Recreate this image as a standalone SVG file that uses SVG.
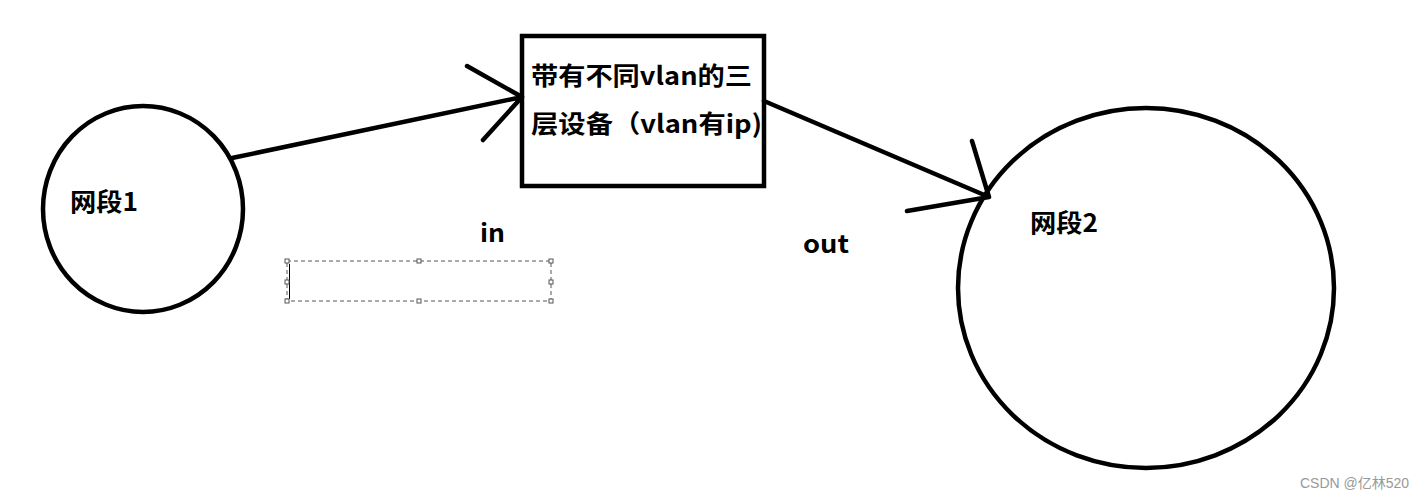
<svg xmlns="http://www.w3.org/2000/svg" width="1425" height="499" viewBox="0 0 1425 499">
<style>
.s{fill:none;stroke:#000;stroke-width:4.5;stroke-linecap:round}
.t{font-family:"Noto Sans CJK SC","Noto Sans",sans-serif;font-weight:bold;font-size:25px;fill:#000}
.h{fill:#fff;stroke:#555;stroke-width:1}
</style>
<rect width="1425" height="499" fill="#fff"/>
<g id="net1">
<ellipse class="s" cx="143" cy="209" rx="100" ry="103"/>
<text class="t" x="70" y="211" textLength="68" lengthAdjust="spacingAndGlyphs">网段1</text>
</g>
<g id="device">
<rect class="s" x="522" y="36" width="242" height="150" style="stroke-linecap:butt"/>
<text class="t" x="531" y="85" textLength="221" lengthAdjust="spacingAndGlyphs">带有不同vlan的三</text>
<text class="t" x="531" y="133" textLength="231" lengthAdjust="spacingAndGlyphs">层设备（vlan有ip)</text>
</g>
<g id="net2">
<ellipse class="s" cx="1146" cy="288" rx="188" ry="180"/>
<text class="t" x="1030" y="232" textLength="68" lengthAdjust="spacingAndGlyphs">网段2</text>
</g>
<g id="connectors">
<path class="s" d="M232 158L522 97M467 66L522 97M483 140L522 97"/>
<path class="s" d="M764 101L989 197M972 141L989 197M907 211L989 197"/>
</g>
<g id="labels">
<text class="t" x="480" y="242" textLength="25" lengthAdjust="spacingAndGlyphs">in</text>
<text class="t" x="803" y="253" textLength="46" lengthAdjust="spacingAndGlyphs">out</text>
</g>
<g id="selection">
<rect x="287" y="261" width="264" height="40" fill="none" stroke="#555" stroke-width="1" stroke-dasharray="4,3"/>
<line x1="289.5" y1="264" x2="289.5" y2="299" stroke="#000" stroke-width="1"/>
<rect class="h" x="285" y="259" width="4" height="4"/>
<rect class="h" x="417" y="259" width="4" height="4"/>
<rect class="h" x="549" y="259" width="4" height="4"/>
<rect class="h" x="285" y="280" width="4" height="4"/>
<rect class="h" x="549" y="280" width="4" height="4"/>
<rect class="h" x="285" y="299" width="4" height="4"/>
<rect class="h" x="417" y="299" width="4" height="4"/>
<rect class="h" x="549" y="299" width="4" height="4"/>
</g>
<text x="1300" y="488" font-family="'Liberation Sans','Noto Sans CJK SC',sans-serif" font-size="14" fill="#999">CSDN @亿林520</text>
</svg>
